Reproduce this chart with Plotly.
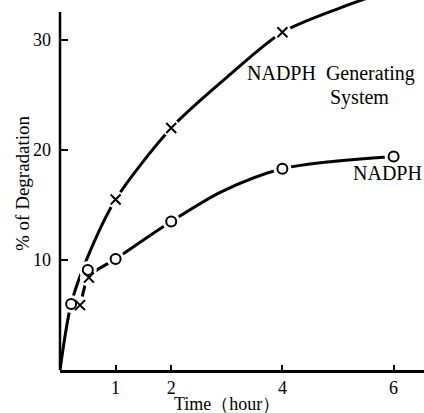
import plotly.graph_objects as go

# Measured data points
nadph_t = [0.2, 0.5, 1, 2, 4, 6]
nadph_v = [6.0, 9.1, 10.1, 13.5, 18.3, 19.4]
gen_t = [0.36, 0.52, 1, 2, 4]
gen_v = [5.9, 8.4, 15.5, 22.0, 30.7]

# Hand-drawn smooth curves
gen_curve_t = [0, 0.2, 0.5, 1, 2, 3, 4, 5.03, 5.8]
gen_curve_v = [0, 6.0, 10.3, 15.5, 22.0, 26.6, 30.7, 32.9, 34.3]
nadph_curve_t = [0.38, 0.52, 1, 2, 2.9, 4, 6]
nadph_curve_v = [6.1, 8.5, 10.1, 13.5, 16.2, 18.3, 19.4]

x_ticks = [1, 2, 4, 6]
y_ticks = [10, 20, 30]

FONT = "Liberation Serif"
fig = go.Figure()

fig.add_trace(go.Scatter(x=gen_curve_t, y=gen_curve_v, mode="lines",
                         line=dict(color="black", width=3, shape="spline", smoothing=0.8),
                         hoverinfo="skip", showlegend=False))
fig.add_trace(go.Scatter(x=nadph_curve_t, y=nadph_curve_v, mode="lines",
                         line=dict(color="black", width=3, shape="spline", smoothing=0.8),
                         hoverinfo="skip", showlegend=False))
# white halos to make gaps around markers
fig.add_trace(go.Scatter(x=nadph_t + gen_t, y=nadph_v + gen_v, mode="markers",
                         marker=dict(symbol="circle", size=18, color="white", line=dict(width=0)),
                         hoverinfo="skip", showlegend=False))
fig.add_trace(go.Scatter(x=nadph_t, y=nadph_v, mode="markers", name="NADPH",
                         marker=dict(symbol="circle-open", size=10, color="black", line=dict(width=2)),
                         showlegend=False))
fig.add_trace(go.Scatter(x=gen_t, y=gen_v, mode="markers", name="NADPH Generating System",
                         marker=dict(symbol="x-thin-open", size=10, color="black", line=dict(width=2)),
                         showlegend=False))

# y axis line (stops below the top)
fig.add_shape(type="line", xref="paper", yref="paper", x0=0, x1=0, y0=0, y1=32.5 / 33.6,
              line=dict(color="black", width=2.5))

annots = [
    dict(text="NADPH  Generating", x=(245 - 60) / 364, y=(370 - 73) / 370),
    dict(text="System", x=(328 - 60) / 364, y=(370 - 98) / 370),
    dict(text="NADPH", x=(351 - 60) / 364, y=(370 - 173) / 370),
]
for a in annots:
    fig.add_annotation(text=a["text"], x=a["x"], y=a["y"], xref="paper", yref="paper",
                       xanchor="left", yanchor="middle", showarrow=False,
                       font=dict(family=FONT, size=20, color="black"))

fig.add_annotation(text="% of Degradation", x=(22 - 60) / 364, y=(370 - 183) / 370,
                   xref="paper", yref="paper", textangle=-90, showarrow=False,
                   xanchor="center", yanchor="middle",
                   font=dict(family=FONT, size=19, color="black"))
fig.add_annotation(text="Time（hour）", x=(227 - 60) / 364, y=(370 - 404) / 370,
                   xref="paper", yref="paper", showarrow=False,
                   xanchor="center", yanchor="middle", borderpad=0,
                   font=dict(family=FONT, size=18, color="black"))

fig.update_xaxes(range=[0, 364 / 55.6], tickvals=x_ticks, ticktext=[str(v) for v in x_ticks],
                 ticks="inside", ticklen=5, tickwidth=1.5, tickcolor="black",
                 showline=True, linecolor="black", linewidth=2.5,
                 showgrid=False, zeroline=False, ticklabelstandoff=0,
                 tickfont=dict(family=FONT, size=18, color="black"))
fig.update_yaxes(range=[0, 370 / 11], tickvals=y_ticks, ticktext=[str(v) for v in y_ticks],
                 ticks="inside", ticklen=8, tickwidth=1.5, tickcolor="black",
                 showline=False, showgrid=False, zeroline=False, ticklabelstandoff=8,
                 tickfont=dict(family=FONT, size=18, color="black"))

fig.update_layout(width=424, height=413, margin=dict(l=60, r=0, t=0, b=43),
                  plot_bgcolor="white", paper_bgcolor="white", showlegend=False)

fig.write_html("out.html")
